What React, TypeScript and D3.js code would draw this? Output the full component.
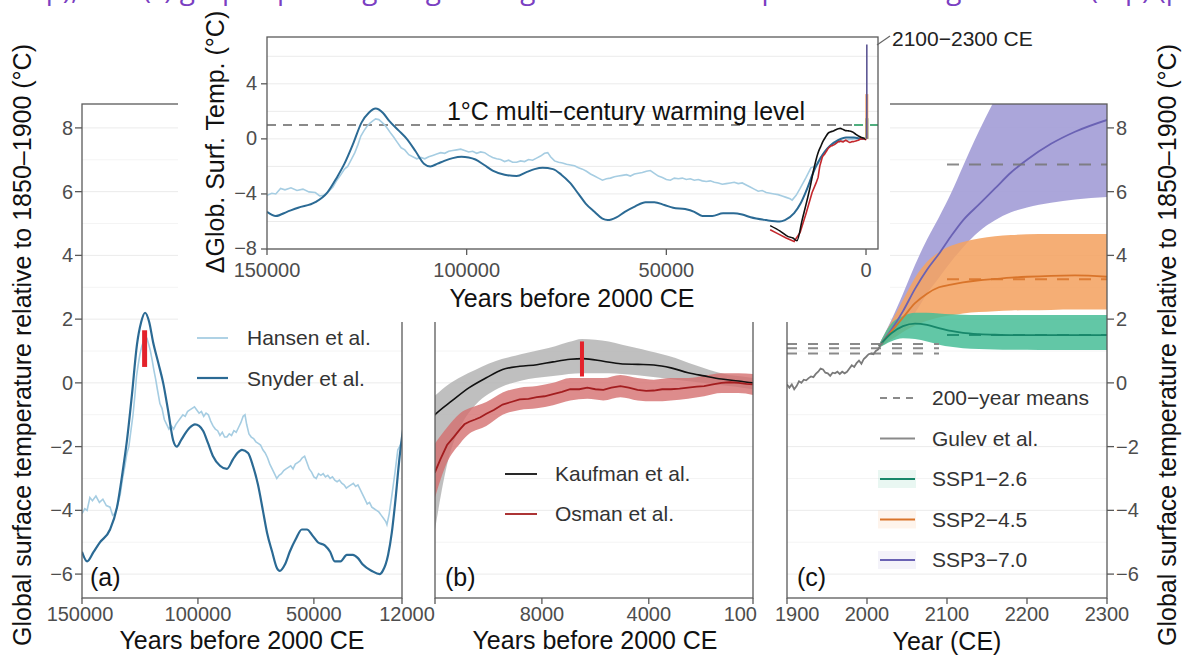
import React from 'react';
import * as d3 from 'd3';

type Pt = [number, number];
type Band = [number, number, number];

// ---------- data (years before 2000 CE or CE, °C) ----------
const snyder: Pt[] = [
  [150000, -5.3], [147800, -5.6], [145000, -5.3], [142200, -5.0], [137900, -4.6], [134900, -3.9],
  [132500, -2.8], [130600, -1.8], [128500, -0.4], [126300, 1.2], [124500, 1.9], [122800, 2.2],
  [121000, 1.9], [119400, 1.3], [117000, 0.6], [115000, 0.0], [112800, -0.9], [110700, -1.8],
  [109100, -2.0], [107300, -1.8], [105600, -1.6], [103500, -1.4], [101300, -1.3], [99500, -1.35],
  [97800, -1.5], [95600, -1.9], [93500, -2.3], [90500, -2.6], [87500, -2.7], [84900, -2.4],
  [83000, -2.2], [81000, -2.1], [78400, -2.2], [76300, -2.6], [74100, -3.2], [72000, -4.0],
  [70200, -4.7], [68000, -5.3], [66000, -5.8], [64700, -5.9], [62500, -5.7], [60400, -5.3],
  [57800, -4.9], [55200, -4.6], [53000, -4.6], [50500, -4.8], [48300, -5.0], [45300, -5.1],
  [43000, -5.3], [41000, -5.6], [38500, -5.6], [35800, -5.4], [33200, -5.4], [31000, -5.5],
  [28900, -5.7], [25000, -5.9], [21600, -6.0], [20300, -5.9], [18000, -5.4], [16400, -4.7],
  [15000, -3.8], [13000, -2.3], [12000, -1.7], [10500, -1.0], [9000, -0.5], [7000, -0.1],
  [5000, 0.1], [3000, 0.1], [1000, 0.0], [0, 0.0],
];

const hansen: Pt[] = [
  [150000, -4.1], [148800, -3.95], [147800, -4.0], [146600, -3.6], [145500, -3.7], [144000, -3.55],
  [142500, -3.75], [141000, -3.65], [139500, -3.85], [137900, -3.9], [136800, -4.15], [135800, -4.1],
  [134500, -3.8], [133500, -3.5], [132500, -3.0], [131500, -2.6], [130600, -2.2], [129800, -2.0],
  [128900, -1.5], [128000, -1.0], [127200, -0.4], [126500, 0.2], [125700, 0.6], [125000, 0.9],
  [124200, 1.15], [123500, 1.3], [122800, 1.45], [122000, 1.4], [121200, 1.2], [120500, 1.0],
  [119700, 0.7], [119000, 0.4], [118200, 0.1], [117500, -0.2], [116400, -0.65], [115500, -0.8],
  [114500, -1.15], [113500, -1.3], [112500, -1.45], [111500, -1.35], [110500, -1.45], [109500, -1.3],
  [108500, -1.2], [107500, -1.1], [106500, -1.0], [105500, -1.05], [104500, -0.9], [103500, -0.85],
  [102500, -0.8], [101500, -0.75], [100500, -0.85], [99500, -0.95], [98500, -0.9], [97500, -1.05],
  [96500, -0.95], [95500, -1.0], [94500, -1.2], [93500, -1.35], [92500, -1.45], [91500, -1.5],
  [90500, -1.65], [89500, -1.55], [88500, -1.7], [87500, -1.7], [86500, -1.6], [85500, -1.65],
  [84500, -1.5], [83500, -1.55], [82500, -1.4], [81500, -1.25], [80500, -1.05], [79700, -1.0],
  [79000, -1.3], [78000, -1.6], [77000, -1.7], [76000, -1.75], [75000, -1.85], [74000, -1.9],
  [73000, -1.95], [72000, -2.1], [71000, -2.2], [70000, -2.35], [69000, -2.55], [68000, -2.7],
  [67000, -2.85], [66000, -3.0], [65000, -2.9], [64000, -2.85], [63000, -2.75], [62000, -2.7],
  [61000, -2.65], [60000, -2.6], [59000, -2.7], [58000, -2.55], [57000, -2.5], [56000, -2.45],
  [55000, -2.35], [54000, -2.3], [53000, -2.5], [52000, -2.7], [51000, -2.8], [50000, -2.95],
  [49000, -3.0], [48000, -2.85], [47000, -2.9], [46000, -2.85], [45000, -2.95], [44000, -2.9],
  [43000, -3.0], [42000, -2.95], [41000, -3.05], [40000, -3.1], [39000, -3.05], [38000, -3.15],
  [37000, -3.2], [36000, -3.3], [35000, -3.25], [34000, -3.2], [33000, -3.15], [32000, -3.25],
  [31000, -3.2], [30000, -3.35], [29000, -3.5], [28000, -3.65], [27000, -3.8], [26000, -3.75],
  [25000, -3.9], [24000, -3.95], [23000, -4.0], [22000, -4.05], [21000, -4.15], [20000, -4.25],
  [19000, -4.35], [18500, -4.45], [17500, -4.1], [16500, -3.6], [15000, -2.8], [13800, -2.1],
  [13000, -2.0], [12000, -1.8], [11000, -1.2], [10000, -0.8], [9000, -0.5], [8000, -0.3],
  [7000, -0.2], [6000, -0.15], [5000, -0.1], [4000, -0.05], [3000, 0.0], [1000, 0.0], [0, 0.0],
];

const kaufman: Pt[] = [
  [24000, -6.3], [21500, -6.7], [19500, -7.1], [18300, -7.2], [17300, -7.4], [16000, -5.9],
  [14000, -3.5], [13000, -2.1], [12000, -1.0], [11360, -0.56], [10720, -0.15], [10080, 0.16],
  [9470, 0.42], [8830, 0.52], [8190, 0.57], [7580, 0.66], [6940, 0.74], [6450, 0.76],
  [5700, 0.68], [5060, 0.6], [4400, 0.58], [3810, 0.56], [3170, 0.47], [2530, 0.32],
  [1930, 0.22], [1280, 0.12], [640, 0.06], [100, 0.0], [0, 0.0],
];

// year, lower, upper
const kaufmanBand: Band[] = [
  [12000, -4.6, -0.4], [11500, -2.4, -0.05], [11000, -1.3, 0.2], [10500, -0.7, 0.4],
  [10000, -0.35, 0.6], [9500, -0.12, 0.75], [9000, 0.02, 0.85], [8500, 0.12, 0.95],
  [8000, 0.18, 1.05], [7500, 0.22, 1.15], [7000, 0.28, 1.28], [6500, 0.3, 1.38],
  [6000, 0.3, 1.35], [5500, 0.3, 1.3], [5000, 0.28, 1.2], [4500, 0.25, 1.1], [4000, 0.2, 1.0],
  [3500, 0.15, 0.9], [3000, 0.1, 0.78], [2500, 0.05, 0.62], [2000, 0.0, 0.48],
  [1500, -0.05, 0.35], [1000, -0.1, 0.25], [500, -0.15, 0.2], [100, -0.2, 0.15],
];

const osman: Pt[] = [
  [24000, -6.6], [22000, -6.9], [20000, -7.2], [18000, -7.45], [16500, -6.8], [15000, -5.4],
  [13500, -3.9], [12500, -3.2], [12000, -2.8], [11800, -2.4], [11550, -1.95], [11300, -1.7],
  [11060, -1.45], [10900, -1.3], [10720, -1.22], [10500, -1.15], [10300, -1.08], [10080, -0.97],
  [9800, -0.85], [9470, -0.68], [9150, -0.6], [8830, -0.52], [8500, -0.5], [8190, -0.45],
  [7900, -0.42], [7580, -0.35], [7250, -0.28], [6940, -0.2], [6600, -0.2], [6300, -0.15],
  [6000, -0.2], [5700, -0.22], [5400, -0.15], [5060, -0.1], [4750, -0.15], [4420, -0.22],
  [4100, -0.25], [3810, -0.24], [3500, -0.2], [3170, -0.2], [2850, -0.18], [2530, -0.15],
  [2200, -0.12], [1930, -0.1], [1600, -0.05], [1280, 0.0], [960, 0.02], [640, 0.0],
  [350, -0.03], [100, -0.05], [0, 0.0],
];

const osmanBand: Band[] = [
  [12000, -3.6, -1.9], [11550, -2.5, -1.4], [11060, -1.9, -0.95], [10720, -1.6, -0.8],
  [10080, -1.35, -0.6], [9470, -1.0, -0.3], [8830, -0.85, -0.15], [8190, -0.8, -0.1],
  [7580, -0.7, 0.0], [6940, -0.55, 0.15], [6300, -0.5, 0.15], [5700, -0.55, 0.15],
  [5060, -0.45, 0.25], [4420, -0.55, 0.15], [3810, -0.58, 0.1], [3170, -0.55, 0.15],
  [2530, -0.5, 0.15], [1930, -0.42, 0.22], [1280, -0.32, 0.3], [640, -0.32, 0.3],
  [100, -0.38, 0.28],
];

// reconstructed peak ranges: year, low, high
const ligBar: Band = [123000, 0.5, 1.65];
const holoceneBar: Band = [6500, 0.2, 1.3];

const gulev: Pt[] = [
  [1900, -0.05], [1903, -0.15], [1906, -0.05], [1909, -0.2], [1912, -0.1], [1915, 0.05],
  [1918, 0.0], [1921, 0.1], [1924, 0.08], [1927, 0.15], [1930, 0.2], [1933, 0.18],
  [1936, 0.28], [1939, 0.35], [1942, 0.45], [1945, 0.42], [1948, 0.32], [1951, 0.3],
  [1954, 0.22], [1957, 0.32], [1960, 0.3], [1963, 0.35], [1966, 0.28], [1969, 0.35],
  [1972, 0.3], [1975, 0.35], [1978, 0.45], [1981, 0.55], [1984, 0.5], [1987, 0.62],
  [1990, 0.7], [1993, 0.6], [1996, 0.75], [1999, 0.82], [2002, 0.9], [2005, 0.92],
  [2008, 0.9], [2011, 1.0], [2014, 1.05], [2017, 1.2], [2020, 1.25],
];

const sspYears = [2015, 2030, 2045, 2060, 2075, 2090, 2105, 2120, 2140, 2160, 2180, 2200, 2230, 2260, 2300];
const ssp126Mid = [1.15, 1.55, 1.78, 1.86, 1.82, 1.72, 1.63, 1.57, 1.53, 1.51, 1.5, 1.5, 1.5, 1.5, 1.5];
const ssp126Lo = [1.1, 1.3, 1.4, 1.38, 1.3, 1.2, 1.13, 1.09, 1.06, 1.05, 1.04, 1.04, 1.03, 1.03, 1.03];
const ssp126Hi = [1.2, 1.85, 2.1, 2.2, 2.2, 2.18, 2.15, 2.14, 2.13, 2.13, 2.13, 2.13, 2.13, 2.13, 2.13];
const ssp245Mid = [1.15, 1.6, 2.05, 2.5, 2.8, 3.0, 3.08, 3.15, 3.22, 3.26, 3.3, 3.33, 3.36, 3.37, 3.33];
const ssp245Lo = [1.1, 1.35, 1.6, 1.8, 1.95, 2.05, 2.12, 2.18, 2.22, 2.25, 2.27, 2.28, 2.29, 2.3, 2.3];
const ssp245Hi = [1.2, 1.9, 2.6, 3.3, 3.8, 4.1, 4.3, 4.42, 4.53, 4.6, 4.64, 4.66, 4.67, 4.67, 4.67];
const ssp370Mid = [1.15, 1.65, 2.25, 2.95, 3.55, 4.05, 4.6, 5.1, 5.6, 6.1, 6.6, 7.0, 7.5, 7.88, 8.25];
const ssp370Lo = [1.1, 1.4, 1.75, 2.2, 2.8, 3.3, 3.8, 4.25, 4.75, 5.1, 5.35, 5.5, 5.65, 5.75, 5.83];
const ssp370Hi = [1.2, 1.95, 2.8, 3.7, 4.5, 5.2, 5.95, 6.8, 7.9, 8.9, 9.8, 10.5, 11.3, 11.9, 12.4];

// 200-year means, 2100–2300 CE: SSP1-2.6, SSP2-4.5, SSP3-7.0
const sspMeans = [1.5, 3.25, 6.85];
const meanPeriod = [2100, 2300];
// reconstructed multi-century levels shown at left of panel (c)
const pastMeans = [1.22, 1.09, 0.92];
const pastMeanPeriod = [1900, 2090];

const warmingLevel = 1;

const ticksA = [150000, 100000, 50000, 12000];
const ticksB = [12000, 8000, 4000, 100];
const ticksC = [1900, 2000, 2100, 2200, 2300];
const ticksY = [-6, -4, -2, 0, 2, 4, 6, 8];
const ticksInsetX = [150000, 100000, 50000, 0];
const ticksInsetY = [-8, -4, 0, 4];

// ---------- styling ----------
const FONT = "'Liberation Sans', Arial, Helvetica, sans-serif";
const TICK = '#4d4d4d';
const AXIS = '#5a5a5a';
const GRID = '#ebebeb';
const GRID_MINOR = '#f4f4f4';
const SNYDER = '#2b6a94';
const HANSEN = '#a6cde2';
const OSMAN = '#a31d1f';
const OSMAN_BAND = '#d46f6f';
const KAUF_BAND = '#b4b4b4';
const RED = '#e3222b';
const GREEN = '#47bd96', GREEN_L = '#17876a';
const ORANGE = '#f4a362', ORANGE_L = '#d9742a';
const PURPLE = '#a29cd6', PURPLE_L = '#6a62b4';

// ---------- scales ----------
const PTOP = 104, PBOT = 598;
const yMain = d3.scaleLinear().domain([-6.75, 8.75]).range([PBOT, PTOP]);
const xA = d3.scaleLinear().domain([150000, 12000]).range([82, 402]);
const xB = d3.scaleLinear().domain([12000, 100]).range([435, 753]);
const xC = d3.scaleLinear().domain([1900, 2300]).range([787, 1107]);
const xI = d3.scaleLinear().domain([150000, -3000]).range([267, 878]);
const yI = d3.scaleLinear().domain([-8, 7.4]).range([249, 37]);

type Scale = d3.ScaleLinear<number, number>;
const lineGen = (xs: Scale, ys: Scale, curve: d3.CurveFactory = d3.curveLinear) =>
  d3.line<Pt>().x(d => xs(d[0])).y(d => ys(d[1])).curve(curve);
const areaGen = (xs: Scale, ys: Scale, curve: d3.CurveFactory = d3.curveLinear) =>
  d3.area<Band>().x(d => xs(d[0])).y0(d => ys(d[1])).y1(d => ys(d[2])).curve(curve);

const zipLine = (vals: number[]): Pt[] => sspYears.map((y, i) => [y, vals[i]]);
const zipBand = (lo: number[], hi: number[]): Band[] => sspYears.map((y, i) => [y, lo[i], hi[i]]);

const gridVals = d3.range(-6, 9);

function HGrid({ x0, x1 }: { x0: number; x1: number }) {
  return (
    <g>
      {gridVals.map(v => (
        <line key={v} x1={x0} x2={x1} y1={yMain(v)} y2={yMain(v)}
          stroke={v % 2 === 0 ? GRID : GRID_MINOR} strokeWidth={1} />
      ))}
    </g>
  );
}

function XAxis({ xs, ticks, labels }: { xs: Scale; ticks: number[]; labels: { v: number; anchor: string; dx: number }[] }) {
  return (
    <g>
      {ticks.map(t => (
        <line key={t} x1={xs(t)} x2={xs(t)} y1={PBOT} y2={PBOT + 6} stroke={AXIS} strokeWidth={1.3} />
      ))}
      {labels.map(l => (
        <text key={l.v} x={xs(l.v) + l.dx} y={621} textAnchor={l.anchor as any} fontSize={20} fill={TICK}>
          {l.v}
        </text>
      ))}
    </g>
  );
}

const fmtY = (v: number) => (v < 0 ? `\u2212${Math.abs(v)}` : `${v}`);

export default function App() {
  const lA = lineGen(xA, yMain, d3.curveMonotoneX);
  const lAj = lineGen(xA, yMain);
  const lB = lineGen(xB, yMain);
  const aB = areaGen(xB, yMain, d3.curveMonotoneX);
  const lBs = lineGen(xB, yMain, d3.curveMonotoneX);
  const lC = lineGen(xC, yMain, d3.curveMonotoneX);
  const lCj = lineGen(xC, yMain);
  const aC = areaGen(xC, yMain, d3.curveMonotoneX);
  const lI = lineGen(xI, yI, d3.curveMonotoneX);
  const lIj = lineGen(xI, yI);

  const panelLabels = [
    { x: 90, t: '(a)' },
    { x: 445, t: '(b)' },
    { x: 797, t: '(c)' },
  ];

  const legendC = [
    { label: '200\u2212year means', color: '#8a8a8a', dash: '7 6', fill: null },
    { label: 'Gulev et al.', color: '#8a8a8a', dash: null, fill: null },
    { label: 'SSP1\u22122.6', color: GREEN_L, dash: null, fill: GREEN },
    { label: 'SSP2\u22124.5', color: ORANGE_L, dash: null, fill: ORANGE },
    { label: 'SSP3\u22127.0', color: PURPLE_L, dash: null, fill: PURPLE },
  ];
  const sspColors = [GREEN_L, ORANGE_L, '#777'];

  return (
    <div style={{ position: 'absolute', left: 0, top: 0, background: '#fff' }}>
      <svg width={1186} height={657} fontFamily={FONT} style={{ display: 'block' }}>
        <defs>
          <clipPath id="clipA"><rect x={82} y={PTOP} width={320} height={PBOT - PTOP} /></clipPath>
          <clipPath id="clipB"><rect x={435} y={PTOP} width={318} height={PBOT - PTOP} /></clipPath>
          <clipPath id="clipC"><rect x={787} y={PTOP} width={320} height={PBOT - PTOP} /></clipPath>
          <clipPath id="clipI"><rect x={267} y={37} width={611} height={212} /></clipPath>
        </defs>
        <rect x={0} y={0} width={1186} height={657} fill="#fff" />

        {/* ---------- panel (a) ---------- */}
        <HGrid x0={82} x1={402} />
        <g clipPath="url(#clipA)">
          <path d={lAj(hansen) || ''} fill="none" stroke={HANSEN} strokeWidth={1.6} />
          <path d={lA(snyder) || ''} fill="none" stroke={SNYDER} strokeWidth={2.2} />
          <rect x={xA(ligBar[0]) - 2.5} y={yMain(ligBar[2])} width={5}
            height={yMain(ligBar[1]) - yMain(ligBar[2])} fill={RED} />
        </g>
        <rect x={82} y={PTOP} width={320} height={PBOT - PTOP} fill="none" stroke={AXIS} strokeWidth={1.3} />
        <XAxis xs={xA} ticks={ticksA} labels={[
          { v: 150000, anchor: 'middle', dx: -2 },
          { v: 100000, anchor: 'middle', dx: 0 },
          { v: 50000, anchor: 'middle', dx: 0 },
          { v: 12000, anchor: 'middle', dx: 5 },
        ]} />
        {ticksY.map(v => (
          <g key={v}>
            <line x1={75} x2={82} y1={yMain(v)} y2={yMain(v)} stroke={AXIS} strokeWidth={1.3} />
            <text x={73} y={yMain(v) + 7} textAnchor="end" fontSize={20} fill={TICK}>{fmtY(v)}</text>
          </g>
        ))}
        <g fontSize={21} fill="#333">
          <line x1={197} x2={228} y1={338} y2={338} stroke={HANSEN} strokeWidth={1.8} />
          <text x={247} y={345}>Hansen et al.</text>
          <line x1={197} x2={228} y1={378} y2={378} stroke={SNYDER} strokeWidth={2.2} />
          <text x={247} y={386}>Snyder et al.</text>
        </g>

        {/* ---------- panel (b) ---------- */}
        <HGrid x0={435} x1={753} />
        <g clipPath="url(#clipB)">
          <path d={aB(kaufmanBand) || ''} fill={KAUF_BAND} opacity={0.85} />
          <path d={aB(osmanBand) || ''} fill={OSMAN_BAND} opacity={0.8} />
          <path d={lBs(kaufman) || ''} fill="none" stroke="#111" strokeWidth={1.6} />
          <path d={lB(osman) || ''} fill="none" stroke={OSMAN} strokeWidth={1.8} />
          <rect x={xB(holoceneBar[0]) - 2} y={yMain(holoceneBar[2])} width={4}
            height={yMain(holoceneBar[1]) - yMain(holoceneBar[2])} fill={RED} />
        </g>
        <rect x={435} y={PTOP} width={318} height={PBOT - PTOP} fill="none" stroke={AXIS} strokeWidth={1.3} />
        <XAxis xs={xB} ticks={ticksB} labels={[
          { v: 8000, anchor: 'middle', dx: 0 },
          { v: 4000, anchor: 'middle', dx: 0 },
          { v: 100, anchor: 'end', dx: 4 },
        ]} />
        <g fontSize={21} fill="#333">
          <line x1={505} x2={537} y1={474} y2={474} stroke="#111" strokeWidth={1.8} />
          <text x={555} y={481}>Kaufman et al.</text>
          <line x1={505} x2={537} y1={514} y2={514} stroke={OSMAN} strokeWidth={1.8} />
          <text x={555} y={521}>Osman et al.</text>
        </g>

        {/* ---------- panel (c) ---------- */}
        <HGrid x0={787} x1={1107} />
        <g clipPath="url(#clipC)">
          <path d={aC(zipBand(ssp370Lo, ssp370Hi)) || ''} fill={PURPLE} opacity={0.9} />
          <path d={aC(zipBand(ssp245Lo, ssp245Hi)) || ''} fill={ORANGE} opacity={0.88} />
          <path d={aC(zipBand(ssp126Lo, ssp126Hi)) || ''} fill={GREEN} opacity={0.85} />
          <path d={lC(zipLine(ssp370Mid)) || ''} fill="none" stroke={PURPLE_L} strokeWidth={1.8} />
          <path d={lC(zipLine(ssp245Mid)) || ''} fill="none" stroke={ORANGE_L} strokeWidth={1.8} />
          <path d={lC(zipLine(ssp126Mid)) || ''} fill="none" stroke={GREEN_L} strokeWidth={1.8} />
          {sspMeans.map((m, i) => (
            <line key={i} x1={xC(meanPeriod[0])} x2={xC(meanPeriod[1])} y1={yMain(m)} y2={yMain(m)}
              stroke={sspColors[i]} strokeWidth={2} strokeDasharray="12 10" opacity={0.85} />
          ))}
          {pastMeans.map((m, i) => (
            <line key={i} x1={xC(pastMeanPeriod[0])} x2={xC(pastMeanPeriod[1])} y1={yMain(m)} y2={yMain(m)}
              stroke="#8a8a8a" strokeWidth={2} strokeDasharray="10 11" />
          ))}
          <path d={lCj(gulev) || ''} fill="none" stroke="#7a7a7a" strokeWidth={1.8} />
        </g>
        <rect x={787} y={PTOP} width={320} height={PBOT - PTOP} fill="none" stroke={AXIS} strokeWidth={1.3} />
        <XAxis xs={xC} ticks={ticksC} labels={[
          { v: 1900, anchor: 'start', dx: -12 },
          { v: 2000, anchor: 'middle', dx: 0 },
          { v: 2100, anchor: 'middle', dx: 0 },
          { v: 2200, anchor: 'middle', dx: 0 },
          { v: 2300, anchor: 'middle', dx: 0 },
        ]} />
        {ticksY.map(v => (
          <g key={v}>
            <line x1={1107} x2={1114} y1={yMain(v)} y2={yMain(v)} stroke={AXIS} strokeWidth={1.3} />
            <text x={1116} y={yMain(v) + 7} fontSize={20} fill={TICK}>{fmtY(v)}</text>
          </g>
        ))}
        <g fontSize={21} fill="#333">
          {legendC.map((l, i) => {
            const y = 398 + i * 40.5;
            return (
              <g key={l.label}>
                {l.fill && <rect x={878} y={y - 9} width={38} height={18} fill={l.fill} opacity={0.12} />}
                <line x1={880} x2={915} y1={y} y2={y} stroke={l.color} strokeWidth={2}
                  strokeDasharray={l.dash || undefined} />
                <text x={932} y={y + 7}>{l.label}</text>
              </g>
            );
          })}
        </g>

        {/* panel labels */}
        {panelLabels.map(p => (
          <text key={p.t} x={p.x} y={586} fontSize={25} fill="#111">{p.t}</text>
        ))}

        {/* axis titles */}
        <g fontSize={25} fill="#111" textAnchor="middle">
          <text x={242} y={649}>Years before 2000 CE</text>
          <text x={595} y={649}>Years before 2000 CE</text>
          <text x={947} y={650}>Year (CE)</text>
          <text transform="translate(22,345) rotate(-90)" dominantBaseline="central">
            Global surface temperature relative to 1850–1900 (°C)
          </text>
          <text transform="translate(1167,345) rotate(-90)" dominantBaseline="central">
            Global surface temperature relative to 1850–1900 (°C)
          </text>
        </g>

        {/* ---------- inset ---------- */}
        <rect x={178} y={0} width={712} height={322} fill="#fff" />
        {d3.range(-8, 8, 2).map(v => (
          <line key={v} x1={267} x2={878} y1={yI(v)} y2={yI(v)} stroke={GRID} strokeWidth={1} />
        ))}
        <g clipPath="url(#clipI)">
          <line x1={xI(150000)} x2={xI(3000)} y1={yI(warmingLevel)} y2={yI(warmingLevel)}
            stroke="#8a8a8a" strokeWidth={2} strokeDasharray="9 7" />
          <line x1={xI(3000)} x2={xI(-3000)} y1={yI(warmingLevel)} y2={yI(warmingLevel)}
            stroke="#4fae7e" strokeWidth={2} strokeDasharray="9 7" />
          <path d={lIj(hansen) || ''} fill="none" stroke={HANSEN} strokeWidth={1.6} />
          <path d={lI(snyder) || ''} fill="none" stroke={SNYDER} strokeWidth={2} />
          <path d={lIj(osman) || ''} fill="none" stroke="#c4282d" strokeWidth={1.6} />
          <path d={lI(kaufman) || ''} fill="none" stroke="#111" strokeWidth={1.6} />
          {sspMeans.map((m, i) => (
            <line key={i} x1={xI(-200)} x2={xI(-200)} y1={yI(0)} y2={yI(m)}
              stroke={[GREEN_L, ORANGE, '#5d5794'][i]} strokeWidth={i === 2 ? 1.6 : 3} />
          ))}
        </g>
        <rect x={267} y={37} width={611} height={212} fill="none" stroke={AXIS} strokeWidth={1.3} />
        {ticksInsetY.map(v => (
          <g key={v}>
            <line x1={261} x2={267} y1={yI(v)} y2={yI(v)} stroke={AXIS} strokeWidth={1.3} />
            <text x={257} y={yI(v) + 6} textAnchor="end" fontSize={20} fill={TICK}>{fmtY(v)}</text>
          </g>
        ))}
        {ticksInsetX.map(v => (
          <g key={v}>
            <line x1={xI(v)} x2={xI(v)} y1={249} y2={255} stroke={AXIS} strokeWidth={1.3} />
            <text x={xI(v)} y={277} textAnchor="middle" fontSize={20} fill={TICK}>{v}</text>
          </g>
        ))}
        <g fontSize={25} fill="#111" textAnchor="middle">
          <text x={572} y={307}>Years before 2000 CE</text>
          <text transform="translate(215,142) rotate(-90)" dominantBaseline="central">ΔGlob. Surf. Temp. (°C)</text>
          <text x={626} y={120}>1°C multi−century warming level</text>
        </g>
        <line x1={877} x2={890} y1={45} y2={36} stroke="#666" strokeWidth={1.2} />
        <text x={892} y={46} fontSize={21} fill="#222">2100−2300 CE</text>

        {/* clipped caption line from the page above: only its descenders reach the picture */}
        <text x={-6} y={-1} fontSize={28} fontFamily="'Open Sans', sans-serif" fill="#7b3fc2">
          temp), and (c) graphs plotting long-term global surface temperature change to 2300 (top) (p
        </text>
      </svg>
    </div>
  );
}
